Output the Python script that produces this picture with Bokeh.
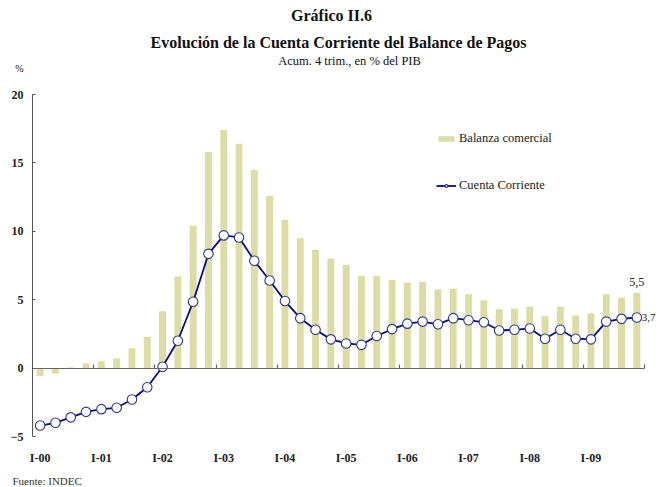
from bokeh.plotting import figure
from bokeh.models import (Range1d, FixedTicker, Label, Legend, LegendItem, LinearAxis)
from bokeh.embed import file_html
from bokeh.resources import INLINE

quarters = [f"{q}-{y:02d}" for y in range(0, 10) for q in ("I", "II", "III", "IV")]
balanza_comercial = [-0.6, -0.4, 0.05, 0.35, 0.5, 0.7, 1.45, 2.3,
                     4.15, 6.7, 10.4, 15.8, 17.4, 16.4, 14.5, 12.6,
                     10.85, 9.5, 8.65, 8.0, 7.55, 6.75, 6.75, 6.45,
                     6.25, 6.3, 5.75, 5.8, 5.4, 4.95, 4.3, 4.35,
                     4.5, 3.8, 4.5, 3.85, 4.0, 5.4, 5.15, 5.5]
cuenta_corriente = [-4.2, -4.0, -3.6, -3.2, -3.0, -2.9, -2.3, -1.4,
                    0.1, 2.0, 4.85, 8.35, 9.7, 9.55, 7.85, 6.4,
                    4.9, 3.65, 2.8, 2.1, 1.8, 1.7, 2.35, 2.85,
                    3.25, 3.4, 3.2, 3.65, 3.5, 3.35, 2.75, 2.8,
                    2.9, 2.15, 2.8, 2.15, 2.1, 3.4, 3.6, 3.7]
y_ticks = [-5, 0, 5, 10, 15, 20]
year_labels = ["I-00", "I-01", "I-02", "I-03", "I-04", "I-05", "I-06", "I-07", "I-08", "I-09"]

FONT = "Liberation Serif"
BAR = "#DBDCA6"
NAVY = "#0A0A82"
W, H = 658, 487

idx = list(range(len(quarters)))
n = len(quarters)
ymin, ymax = y_ticks[0], y_ticks[-1]

# the frame covers the whole canvas; data area spans page x 32..644, y 94..436
px_x = (644 - 32) / n
px_y = (436 - 94) / (ymax - ymin)
x_start = -0.5 - 32 / px_x
x_end = n - 0.5 + (W - 644) / px_x
y_end = ymax + 94 / px_y
y_start = ymin - (H - 436) / px_y

p = figure(width=W, height=H, output_backend="svg", toolbar_location=None,
           x_range=Range1d(x_start, x_end), y_range=Range1d(y_start, y_end),
           x_axis_location=None, y_axis_location=None,
           min_border_left=0, min_border_right=0, min_border_top=0, min_border_bottom=0)
p.outline_line_color = None
p.grid.visible = False
p.background_fill_color = "white"

bars = p.vbar(x=idx, top=balanza_comercial, bottom=0, width=0.45, fill_color=BAR, line_color=None)
line = p.line(idx, cuenta_corriente, line_color=NAVY, line_width=1.8)
pts = p.scatter(idx, cuenta_corriente, size=9.5, fill_color="white", line_color="#2B3A8C", line_width=1.1)

# y axis
ya = LinearAxis(fixed_location=-0.5, bounds=(ymin, ymax), ticker=FixedTicker(ticks=y_ticks))
ya.major_tick_in = 3
ya.major_tick_out = 0
ya.minor_tick_line_color = None
ya.axis_line_color = "#555555"
ya.major_tick_line_color = "#555555"
ya.major_label_standoff = 9
ya.major_label_text_font = FONT
ya.major_label_text_font_style = "bold"
ya.major_label_text_font_size = "12px"
ya.major_label_text_color = "#222222"
p.add_layout(ya, "left")

# zero line with year-boundary ticks
bounds = [i - 0.5 for i in idx if i % 4 == 0 and i > 0] + [n - 0.5]
za = LinearAxis(fixed_location=0, bounds=(-0.5, n - 0.5), ticker=FixedTicker(ticks=bounds))
za.major_tick_in = 4
za.major_tick_out = 0
za.minor_tick_line_color = None
za.axis_line_color = "#666666"
za.axis_line_width = 1.2
za.major_tick_line_color = "#666666"
za.major_tick_line_width = 1.2
za.major_label_text_alpha = 0
za.major_label_text_font_size = "1px"
p.add_layout(za, "below")

# x axis labels (year starts)
xa = LinearAxis(fixed_location=ymin, ticker=FixedTicker(ticks=[i for i in idx if i % 4 == 0]))
xa.major_label_overrides = {i: year_labels[i // 4] for i in idx if i % 4 == 0}
xa.axis_line_color = None
xa.major_tick_line_color = None
xa.minor_tick_line_color = None
xa.major_tick_in = 0
xa.major_tick_out = 0
xa.major_label_standoff = 14
xa.major_label_text_font = FONT
xa.major_label_text_font_style = "bold"
xa.major_label_text_font_size = "12px"
xa.major_label_text_color = "#222222"
p.add_layout(xa, "below")

legend = Legend(items=[LegendItem(label="Balanza comercial", renderers=[bars]),
                       LegendItem(label="Cuenta Corriente", renderers=[line, pts])],
                location=(436, H - 193), orientation="vertical",
                glyph_width=20, glyph_height=7, spacing=32, padding=0, margin=0,
                label_standoff=3, border_line_color=None, background_fill_alpha=0,
                label_text_font=FONT, label_text_font_size="12.5px", label_text_color="#222222")
p.add_layout(legend, "center")

def lab(text, x, y, size, bold=False, align="center", color="#111111"):
    p.add_layout(Label(x=x, y=H - y, x_units="screen", y_units="screen", text=text,
                       text_font=FONT, text_font_size=size,
                       text_font_style="bold" if bold else "normal",
                       text_align=align, text_baseline="middle", text_color=color))

lab("Gráfico II.6", 331, 15, "16px", bold=True)
lab("Evolución de la Cuenta Corriente del Balance de Pagos", 338, 42, "16px", bold=True)
lab("Acum. 4 trim., en % del PIB", 349, 60, "12.5px")
lab("%", 19, 68, "10px")
lab("Fuente: INDEC", 12, 480, "11px", align="left", color="#333333")

p.add_layout(Label(x=idx[-1], y=balanza_comercial[-1], text="5,5", text_font=FONT,
                   text_font_size="12px", text_align="center", text_baseline="bottom",
                   y_offset=7, text_color="#222222"))
p.add_layout(Label(x=idx[-1], y=cuenta_corriente[-1], text="3,7", text_font=FONT,
                   text_font_size="11px", text_align="left", text_baseline="middle",
                   x_offset=5, text_color="#222222"))

open("out.html", "w").write(file_html(p, INLINE))
